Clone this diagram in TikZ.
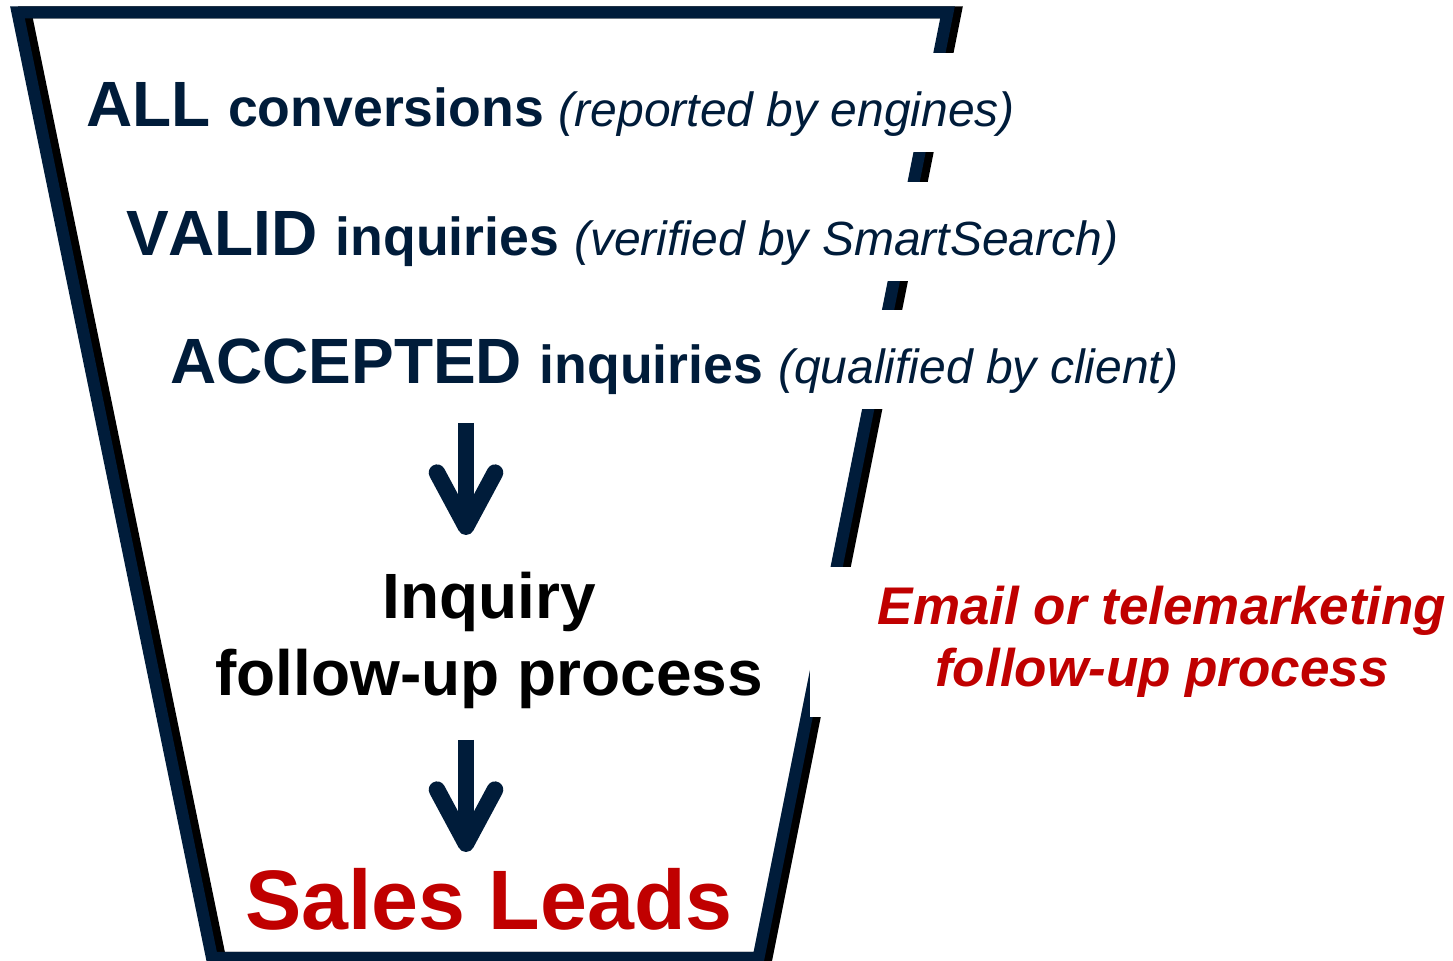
\documentclass[tikz,border=0pt]{standalone}
\usepackage{fontspec}
\setmainfont{Liberation Sans}[Kerning=Off]
\usepackage[usenames,dvipsnames]{xcolor}
\usepackage{tikz}
\usetikzlibrary{arrows.meta}

\definecolor{funnelblue}{RGB}{0,28,58}
\definecolor{leadred}{RGB}{192,0,0}

% font sizes for the three parts of a funnel stage
\newcommand{\stagehead}{\fontsize{32}{38}\selectfont\bfseries}
\newcommand{\stageword}{\fontsize{26.8}{32}\selectfont\bfseries}
\newcommand{\stagenote}{\fontsize{24}{29}\selectfont\itshape}

\begin{document}
\begin{tikzpicture}[x=0.5pt, y=-0.5pt,
    stage/.style={anchor=text, fill=white, text=funnelblue,
      inner xsep=5pt, inner ysep=0pt, text height=37pt, text depth=12.5pt},
    flow/.style={draw=funnelblue, line width=8.3pt,
      -{Straight Barb[round, length=27pt, width=29pt]}}]

    \useasboundingbox (0, 0) rectangle (1453, 961);

    % funnel shadow
    \draw [line width=6pt, black, shift={(8, 0)}]
      (17.5, 12.5) -- (947.5, 12.5) -- (758.5, 958) -- (212, 958) -- cycle;
    % funnel outline
    \draw [line width=6pt, funnelblue]
      (17.5, 12.5) -- (947.5, 12.5) -- (758.5, 958) -- (212, 958) -- cycle;

    % the three stages
    \node[stage](all) at (86, 127)
      {{\stagehead ALL }{\stageword conversions }{\stagenote (reported by engines)}};
    \node[stage](valid) at (126, 256)
      {{\stagehead VALID }{\stageword inquiries }{\stagenote (verified by SmartSearch)}};
    \node[stage](accepted) at (170, 384)
      {{\stagehead ACCEPTED }{\stageword inquiries }{\stagenote (qualified by client)}};

    % follow-up
    \node[align=center, font=\fontsize{32}{38.5}\selectfont\bfseries](inquiry)
      at (489, 640){Inquiry\\follow-up process};
    \node[fill=white, text=leadred, align=center,
      font=\fontsize{26.5}{31}\selectfont\bfseries\itshape,
      inner xsep=34pt, inner ysep=0pt, minimum height=75pt](email)
      at (1162, 642){Email or telemarketing\\follow-up process};

    % result
    \node[anchor=base, text=leadred, font=\fontsize{42.2}{50}\selectfont\bfseries](leads)
      at (489, 930){Sales Leads};

    % arrows
    \coordinate (top1) at (466, 423);
    \coordinate (tip1) at (466, 535);
    \coordinate (top2) at (466, 740);
    \coordinate (tip2) at (466, 852);
    \draw [flow] (top1) -- (tip1);
    \draw [flow] (top2) -- (tip2);
\end{tikzpicture}
\end{document}
